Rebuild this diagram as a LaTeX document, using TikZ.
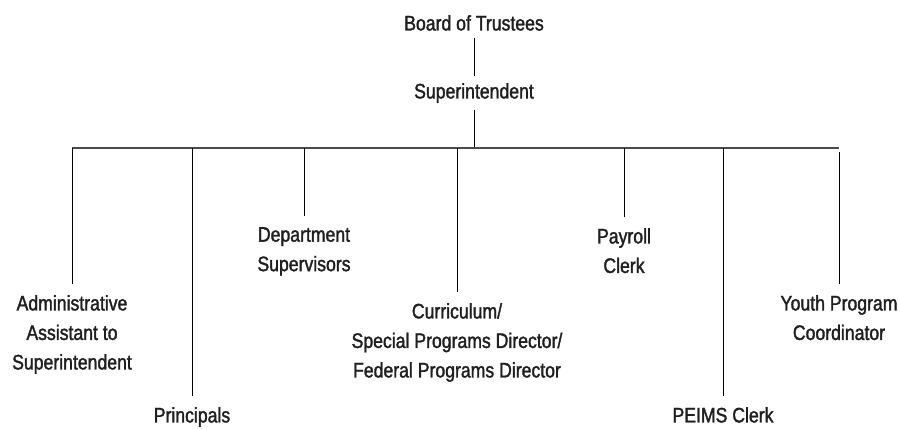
\documentclass[tikz,border=0pt]{standalone}
\usepackage{fontspec}
\setmainfont[FakeStretch=0.84, FakeBold=1.6]{Liberation Sans}
\usepackage{tikz}

\begin{document}
\begin{tikzpicture}[x=1pt, y=-1pt,
  every node/.style={align=center, inner xsep=0pt, inner ysep=11pt, anchor=north, text=black!88,
    font=\fontsize{21pt}{29.5pt}\selectfont},
  link/.style={draw, line width=0.8pt},
  barline/.style={draw, black!70, line width=1.6pt}]
\useasboundingbox (0,0) rectangle (898,429);
\node[inner ysep=7pt] (Board) at (474,8) {Board of Trustees};
\node[inner ysep=7pt] (Super) at (474,76) {Superintendent};
\coordinate (Bar) at (474,148);
\node (Admin) at (72,284) {Administrative\\Assistant to\\Superintendent};
\node (Prin) at (192,396) {Principals};
\node (Dept) at (304,216) {Department\\Supervisors};
\node (Curr) at (457,292) {Curriculum/\\Special Programs Director/\\Federal Programs Director};
\node (Pay) at (624,217) {Payroll\\Clerk};
\node (Peims) at (723,396) {PEIMS Clerk};
\node (Youth) at (839,284) {Youth Program\\Coordinator};
\draw[link] (Board) -- (Super);
\draw[link] (Super) -- (Bar);
\draw[barline] (Admin.north |- Bar) -- (Youth.north |- Bar);
\draw[link] (Admin.north |- Bar) -- (Admin.north);
\draw[link] (Prin.north |- Bar) -- (Prin.north);
\draw[link] (Dept.north |- Bar) -- (Dept.north);
\draw[link] (Curr.north |- Bar) -- (Curr.north);
\draw[link] (Pay.north |- Bar) -- (Pay.north);
\draw[link] (Peims.north |- Bar) -- (Peims.north);
\draw[link] ([yshift=-4pt]Youth.north |- Bar) -- (Youth.north);
\end{tikzpicture}
\end{document}
